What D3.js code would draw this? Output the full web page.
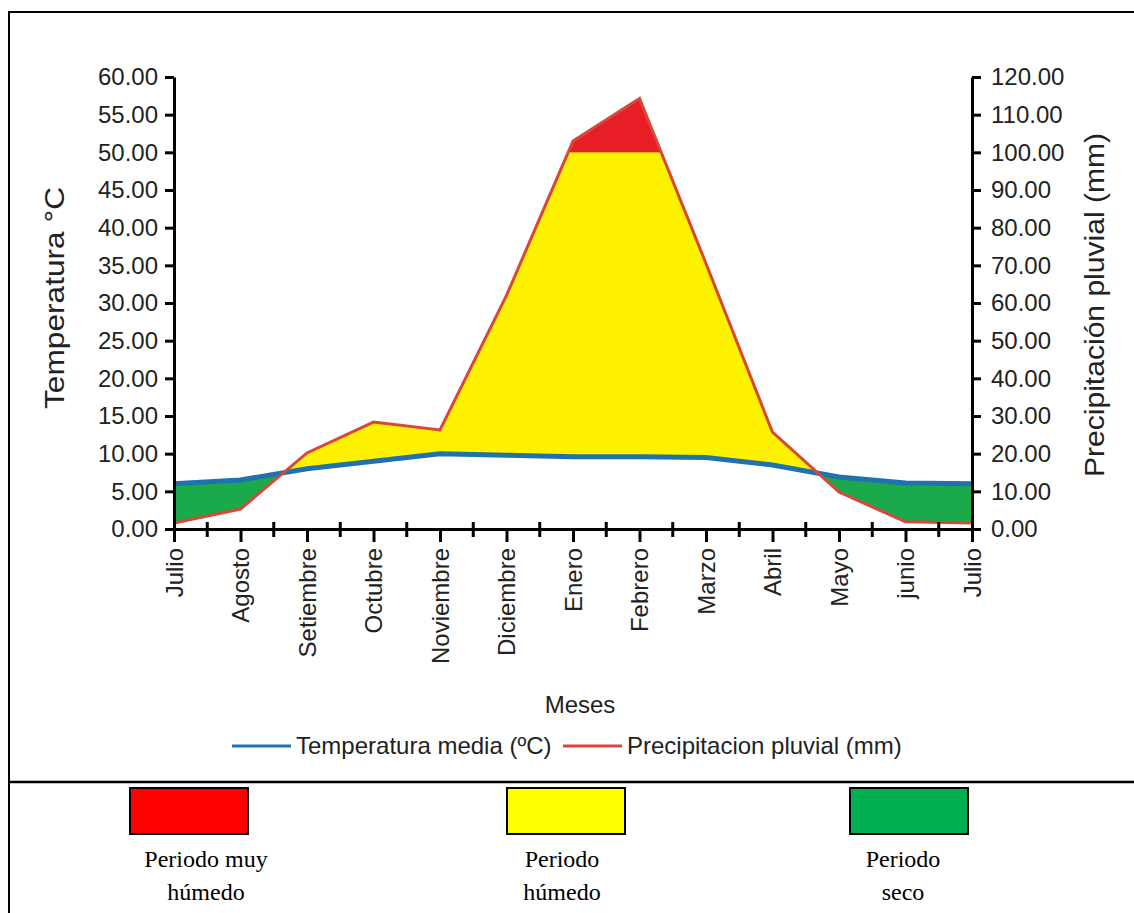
<!DOCTYPE html>
<html>
<head>
<meta charset="utf-8">
<script src="https://cdn.jsdelivr.net/npm/d3@7"></script>
<style>
  body { margin: 0; background: #fff; }
  svg { display: block; }
</style>
</head>
<body>
<svg id="chart" width="1134" height="913"></svg>
<script>
// Climate diagram: temperatura media vs precipitación pluvial
const months = ["Julio", "Agosto", "Setiembre", "Octubre", "Noviembre", "Diciembre",
    "Enero", "Febrero", "Marzo", "Abril", "Mayo", "junio", "Julio"];
const temperature = [6.0, 6.5, 8.0, 9.0, 10.0, 9.8, 9.6, 9.6, 9.5, 8.5, 6.9, 6.1, 6.0];
const precipitation = [1.6, 5.3, 20.2, 28.4, 26.3, 62.0, 103.0, 114.3, 70.5, 25.7, 9.8, 1.9, 1.6];
const tempTicks = d3.range(0, 61, 5);
const precipTicks = d3.range(0, 121, 10);
const periods = [
    { label: ["Periodo muy", "húmedo"], color: "#ff0000" },
    { label: ["Periodo", "húmedo"], color: "#ffff00" },
    { label: ["Periodo", "seco"], color: "#00b050" }
];

const width = 1134, height = 913;
const margin = { top: 77, right: 162, bottom: 384, left: 174 };
const x0 = margin.left, x1 = width - margin.right;
const yBottom = height - margin.bottom, yTop = margin.top;

const svg = d3.select("#chart");
const sans = "'Liberation Sans', Arial, sans-serif";

// Frame lines
svg.append("line").attr("x1", 8).attr("x2", width).attr("y1", 12).attr("y2", 12)
    .attr("stroke", "#000").attr("stroke-width", 2);
svg.append("line").attr("x1", 9).attr("x2", 9).attr("y1", 12).attr("y2", height)
    .attr("stroke", "#000").attr("stroke-width", 2);
svg.append("line").attr("x1", 9).attr("x2", width).attr("y1", 782).attr("y2", 782)
    .attr("stroke", "#000").attr("stroke-width", 2.5);

// Scales
const x = d3.scaleLinear().domain([0, months.length - 1]).range([x0, x1]);
const yT = d3.scaleLinear().domain([0, 60]).range([yBottom, yTop]);
const yP = d3.scaleLinear().domain([0, 120]).range([yBottom, yTop]);

const idx = d3.range(months.length);

// Clip regions below each line
const defs = svg.append("defs");
defs.append("clipPath").attr("id", "belowPrecip").append("path")
    .attr("d", d3.area().x(i => x(i)).y0(yBottom).y1(i => yP(precipitation[i]))(idx));
defs.append("clipPath").attr("id", "belowTemp").append("path")
    .attr("d", d3.area().x(i => x(i)).y0(yBottom).y1(i => yT(temperature[i]))(idx));

// Wet period: above temperature, below precipitation
svg.append("path")
    .attr("d", d3.area().x(i => x(i)).y0(yTop).y1(i => yT(temperature[i]))(idx))
    .attr("fill", "#fff200")
    .attr("clip-path", "url(#belowPrecip)");

// Very wet period: precipitation above 100 mm
svg.append("rect")
    .attr("x", x0).attr("width", x1 - x0)
    .attr("y", yTop - 20).attr("height", yP(100) - yTop + 20)
    .attr("fill", "#e81e26")
    .attr("clip-path", "url(#belowPrecip)");

// Dry period: above precipitation, below temperature
svg.append("path")
    .attr("d", d3.area().x(i => x(i)).y0(yTop).y1(i => yP(precipitation[i]))(idx))
    .attr("fill", "#1aaa4b")
    .attr("clip-path", "url(#belowTemp)");

// Lines
svg.append("path")
    .attr("d", d3.line().x(i => x(i)).y(i => yT(temperature[i]))(idx))
    .attr("fill", "none").attr("stroke", "#1f72ad").attr("stroke-width", 5);
svg.append("path")
    .attr("d", d3.line().x(i => x(i)).y(i => yP(precipitation[i]))(idx))
    .attr("fill", "none").attr("stroke", "#d8473a").attr("stroke-width", 3);

// Axes
function styleAxis(g) {
    g.selectAll("path.domain").attr("stroke", "#000").attr("stroke-width", 3);
    g.selectAll(".tick line").attr("stroke", "#000").attr("stroke-width", 3);
    g.selectAll(".tick text").attr("fill", "#222").attr("font-family", sans).attr("font-size", 24);
}

const xAxis = svg.append("g")
    .attr("transform", `translate(0,${yBottom})`)
    .call(d3.axisBottom(x).tickValues(idx).tickFormat(i => months[i]).tickSize(13).tickSizeOuter(0))
    .call(styleAxis);
xAxis.selectAll(".tick text")
    .attr("transform", "rotate(-90)")
    .attr("text-anchor", "end")
    .attr("x", -19).attr("y", 0).attr("dy", "0.35em");

// Minor ticks between months, crossing the axis
svg.append("g").selectAll("line")
    .data(d3.range(0.5, months.length - 1, 1))
    .enter().append("line")
    .attr("x1", d => x(d)).attr("x2", d => x(d))
    .attr("y1", yBottom - 7).attr("y2", yBottom + 8)
    .attr("stroke", "#000").attr("stroke-width", 3);

svg.append("g")
    .attr("transform", `translate(${x0},0)`)
    .call(d3.axisLeft(yT).tickValues(tempTicks).tickFormat(d3.format(".2f")).tickSize(9).tickPadding(7).tickSizeOuter(0))
    .call(styleAxis);

svg.append("g")
    .attr("transform", `translate(${x1},0)`)
    .call(d3.axisRight(yP).tickValues(precipTicks).tickFormat(d3.format(".2f")).tickSize(9).tickPadding(10).tickSizeOuter(0))
    .call(styleAxis);

// Axis titles
svg.append("text")
    .attr("transform", "translate(64,298) rotate(-90)")
    .attr("text-anchor", "middle")
    .attr("font-family", sans).attr("font-size", 27).attr("fill", "#222")
    .attr("textLength", 222).attr("lengthAdjust", "spacingAndGlyphs")
    .text("Temperatura °C");

svg.append("text")
    .attr("transform", "translate(1104,305) rotate(-90)")
    .attr("text-anchor", "middle")
    .attr("font-family", sans).attr("font-size", 27).attr("fill", "#222")
    .attr("textLength", 344).attr("lengthAdjust", "spacingAndGlyphs")
    .text("Precipitación pluvial (mm)");

svg.append("text")
    .attr("x", 580).attr("y", 713)
    .attr("text-anchor", "middle")
    .attr("font-family", sans).attr("font-size", 24).attr("fill", "#222")
    .text("Meses");

// Line legend
const legendItems = [
    { label: "Temperatura media (ºC)", color: "#1f72ad", x: 232 },
    { label: "Precipitacion pluvial (mm)", color: "#d8473a", x: 563 }
];
const legend = svg.append("g").selectAll("g")
    .data(legendItems)
    .enter().append("g")
    .attr("transform", d => `translate(${d.x},746)`);
legend.append("line")
    .attr("x1", 0).attr("x2", 59)
    .attr("stroke", d => d.color).attr("stroke-width", 3);
legend.append("text")
    .attr("x", 64).attr("dy", "0.35em")
    .attr("font-family", sans).attr("font-size", 24).attr("fill", "#222")
    .text(d => d.label);

// Period boxes
const boxX = [130, 507, 850];
const textX = [206, 562, 903];
const boxes = svg.append("g").selectAll("g")
    .data(periods)
    .enter().append("g");
boxes.append("rect")
    .attr("x", (d, i) => boxX[i]).attr("y", 788)
    .attr("width", 118).attr("height", 46)
    .attr("fill", d => d.color)
    .attr("stroke", "#000").attr("stroke-width", 2);
boxes.append("text")
    .attr("text-anchor", "middle")
    .attr("font-family", "'Liberation Serif', 'Times New Roman', serif")
    .attr("font-size", 24).attr("fill", "#000")
    .selectAll("tspan")
    .data((d, i) => d.label.map((t, k) => ({ t, k, i })))
    .enter().append("tspan")
    .attr("x", d => textX[d.i])
    .attr("y", d => 867 + d.k * 33)
    .text(d => d.t);
</script>
</body>
</html>
